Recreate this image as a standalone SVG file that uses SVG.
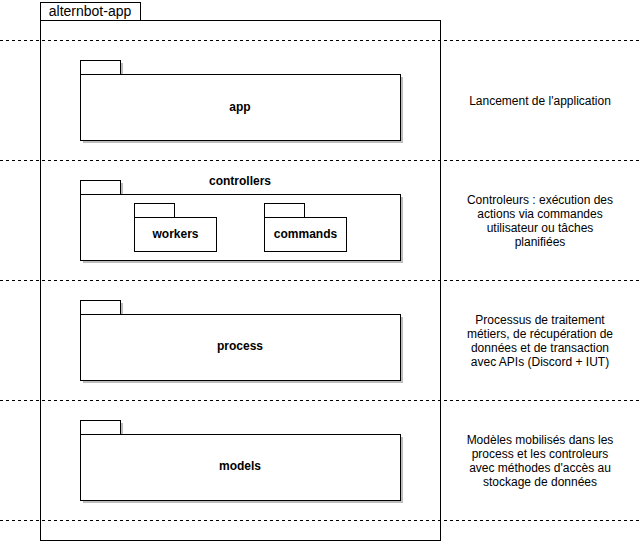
<svg xmlns="http://www.w3.org/2000/svg" width="642" height="541" viewBox="0 0 642 541">
<defs>
<style>
.box{fill:#fff;stroke:#000;stroke-width:1}
.sh{fill:#bdbdbd}
.dash{stroke:#000;stroke-width:1;stroke-dasharray:3 3;fill:none}
.t{font-family:"Liberation Sans",Arial,sans-serif;font-size:12px;fill:#000;text-anchor:middle}
.b{font-weight:bold}
.o{font-size:14px}
</style>
</defs>
<rect width="642" height="541" fill="#fff"/>
<g id="alternbot-app">
<rect class="box" x="40.5" y="2.5" width="100" height="18"/>
<rect class="box" x="40.5" y="20.5" width="400" height="520"/>
<text class="t o" x="90" y="16">alternbot-app</text>
</g>
<g id="lanes">
<line class="dash" x1="0" y1="40.5" x2="642" y2="40.5"/>
<line class="dash" x1="0" y1="160.5" x2="642" y2="160.5"/>
<line class="dash" x1="0" y1="280.5" x2="642" y2="280.5"/>
<line class="dash" x1="0" y1="400.5" x2="642" y2="400.5"/>
<line class="dash" x1="0" y1="520.5" x2="642" y2="520.5"/>
</g>
<g id="app">
<rect class="sh" x="83" y="63" width="40" height="14"/>
<rect class="sh" x="83" y="77" width="320" height="66"/>
<rect class="box" x="80.5" y="60.5" width="40" height="14"/>
<rect class="box" x="80.5" y="74.5" width="320" height="66"/>
<text class="t b" x="240" y="111">app</text>
</g>
<g id="controllers">
<rect class="sh" x="83" y="183" width="40" height="14"/>
<rect class="sh" x="83" y="197" width="320" height="66"/>
<rect class="box" x="80.5" y="180.5" width="40" height="14"/>
<rect class="box" x="80.5" y="194.5" width="320" height="66"/>
<text class="t b" x="240" y="185">controllers</text>
</g>
<g id="workers">
<rect class="box" x="134.5" y="203.5" width="40" height="14"/>
<rect class="box" x="134.5" y="217.5" width="82" height="34"/>
<text class="t b" x="175.5" y="238">workers</text>
</g>
<g id="commands">
<rect class="box" x="264.5" y="203.5" width="40" height="14"/>
<rect class="box" x="264.5" y="217.5" width="82" height="34"/>
<text class="t b" x="305.5" y="238">commands</text>
</g>
<g id="process">
<rect class="sh" x="83" y="303" width="40" height="14"/>
<rect class="sh" x="83" y="317" width="320" height="66"/>
<rect class="box" x="80.5" y="300.5" width="40" height="14"/>
<rect class="box" x="80.5" y="314.5" width="320" height="66"/>
<text class="t b" x="240" y="350">process</text>
</g>
<g id="models">
<rect class="sh" x="83" y="423" width="40" height="14"/>
<rect class="sh" x="83" y="437" width="320" height="66"/>
<rect class="box" x="80.5" y="420.5" width="40" height="14"/>
<rect class="box" x="80.5" y="434.5" width="320" height="66"/>
<text class="t b" x="240" y="470">models</text>
</g>
<g id="notes">
<text class="t" x="540" y="105">Lancement de l'application</text>
<text class="t" x="540" y="204">Controleurs : exécution des</text>
<text class="t" x="540" y="218">actions via commandes</text>
<text class="t" x="540" y="232">utilisateur ou tâches</text>
<text class="t" x="540" y="246">planifiées</text>
<text class="t" x="540" y="324">Processus de traitement</text>
<text class="t" x="540" y="338">métiers, de récupération de</text>
<text class="t" x="540" y="352">données et de transaction</text>
<text class="t" x="540" y="366">avec APIs (Discord + IUT)</text>
<text class="t" x="540" y="444">Modèles mobilisés dans les</text>
<text class="t" x="540" y="458">process et les controleurs</text>
<text class="t" x="540" y="472">avec méthodes d'accès au</text>
<text class="t" x="540" y="486">stockage de données</text>
</g>
</svg>
